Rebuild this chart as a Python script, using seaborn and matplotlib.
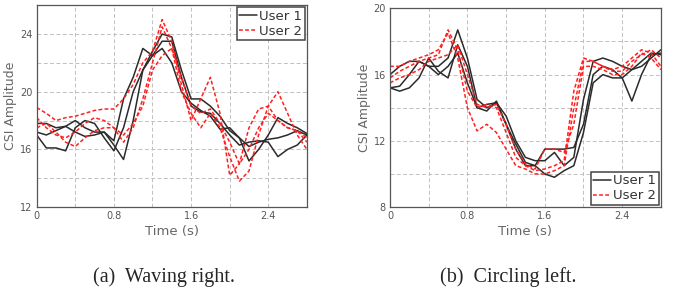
import matplotlib
matplotlib.use('Agg')
import numpy as np
import pandas as pd
import seaborn as sns
import matplotlib.pyplot as plt
from matplotlib.ticker import MultipleLocator

# time axis, one sample every 0.1 s
t = [round(0.1 * i, 1) for i in range(29)]

# (a) waving right
wave_user1 = [
    [17.8, 17.8, 17.5, 17.6, 18.0, 17.5, 17.2, 17.2, 16.6, 19.5, 21.0, 23.0, 22.5, 23.0, 22.0,
     20.0, 19.2, 18.7, 18.3, 17.4, 17.5, 16.8, 16.2, 16.5, 16.7, 16.8, 17.0, 17.3, 17.0],
    [17.2, 17.0, 17.3, 17.6, 17.2, 16.9, 17.0, 17.2, 16.3, 15.3, 18.0, 21.5, 22.8, 24.0, 23.8,
     21.5, 19.5, 19.5, 19.0, 18.3, 17.3, 16.8, 15.2, 16.0, 17.0, 18.2, 17.8, 17.5, 17.1],
    [17.0, 16.1, 16.1, 15.9, 17.5, 18.0, 17.8, 16.8, 15.9, 17.5, 20.0, 21.5, 22.5, 23.5, 23.5,
     21.0, 19.0, 18.6, 18.5, 17.8, 17.0, 16.3, 16.5, 16.6, 16.5, 15.5, 16.0, 16.3, 17.0],
]
wave_user2 = [
    [18.9, 18.5, 18.0, 18.2, 18.3, 18.5, 18.7, 18.8, 18.8, 19.5, 20.5, 22.0, 22.8, 25.0, 23.5,
     20.5, 18.0, 19.5, 21.0, 18.5, 14.2, 15.0, 17.5, 18.8, 19.0, 18.0, 17.5, 17.3, 16.5],
    [18.2, 17.5, 17.0, 16.8, 17.2, 17.8, 18.2, 18.0, 17.5, 16.5, 17.5, 19.5, 22.0, 24.5, 23.0,
     20.0, 18.5, 17.5, 18.5, 17.5, 15.5, 13.8, 14.5, 17.0, 19.0, 20.0, 18.5, 17.0, 16.0],
    [17.5, 17.8, 17.2, 16.5, 16.2, 16.8, 17.3, 17.5, 17.5, 17.0, 17.8, 19.0, 21.5, 22.5, 23.0,
     21.0, 19.0, 18.5, 18.8, 17.8, 16.5, 15.0, 16.0, 17.5, 18.5, 18.0, 17.5, 17.3, 16.8],
]

# (b) circling left
circle_user1 = [
    [16.0, 16.5, 16.8, 16.8, 16.5, 16.5, 17.0, 18.7, 17.0, 14.5, 14.0, 14.3, 13.5, 12.0, 11.0,
     10.8, 10.8, 11.3, 10.5, 11.0, 14.5, 16.8, 17.0, 16.8, 16.5, 16.3, 16.8, 17.3, 17.2],
    [15.2, 15.0, 15.2, 15.8, 17.0, 16.2, 15.8, 17.8, 16.5, 14.0, 13.8, 14.4, 13.0, 11.5, 10.5,
     10.5, 11.5, 11.5, 11.5, 11.6, 13.0, 16.0, 16.5, 16.3, 15.8, 14.4, 16.0, 17.2, 17.3],
    [15.2, 15.3, 16.0, 16.8, 16.5, 16.0, 16.5, 17.3, 15.5, 14.0, 14.2, 14.3, 13.0, 11.8, 10.7,
     10.5, 10.0, 9.8, 10.2, 10.5, 12.5, 15.5, 16.0, 15.8, 15.8, 16.3, 16.5, 17.0, 17.5],
]
circle_user2 = [
    [16.5, 16.5, 16.8, 17.0, 17.2, 17.5, 18.5, 17.0, 14.0, 12.6, 13.0, 12.5, 11.5, 10.5, 10.3,
     10.0, 10.0, 10.2, 10.5, 14.0, 16.8, 16.8, 16.5, 16.3, 16.5, 17.0, 17.5, 17.3, 16.5],
    [15.8, 16.2, 16.5, 16.8, 17.0, 17.2, 18.7, 17.5, 15.0, 14.0, 14.2, 14.0, 12.5, 11.0, 10.5,
     10.2, 10.3, 10.5, 10.8, 15.0, 17.0, 16.8, 16.5, 16.2, 16.2, 16.8, 17.2, 17.5, 17.0],
    [15.5, 15.8, 16.0, 16.3, 16.8, 17.0, 17.2, 17.8, 16.0, 14.2, 14.0, 14.2, 13.0, 11.5, 10.6,
     10.3, 11.5, 11.5, 11.3, 13.0, 16.5, 16.5, 16.3, 16.0, 16.0, 16.5, 17.3, 17.0, 16.3],
]


def to_frame(user1, user2):
    rows = []
    for name, group in (("User 1", user1), ("User 2", user2)):
        for k, vals in enumerate(group):
            for ti, v in zip(t, vals):
                rows.append([ti, v, name, "%s-%d" % (name, k)])
    return pd.DataFrame(rows, columns=["time", "amp", "user", "trial"])


def draw(ax, df, ylim, legend_loc, caption, cap_x):
    sns.lineplot(data=df, x="time", y="amp", hue="user", style="user", units="trial",
                 estimator=None, palette={"User 1": "#2b2b2b", "User 2": "#ff2020"},
                 dashes={"User 1": "", "User 2": (2.5, 1.5)}, linewidth=1.1, ax=ax)
    ax.set_xlim(0, 2.8)
    ax.set_ylim(*ylim)
    ax.xaxis.set_major_locator(MultipleLocator(0.8))
    ax.xaxis.set_minor_locator(MultipleLocator(0.4))
    ax.yaxis.set_major_locator(MultipleLocator(4))
    ax.yaxis.set_minor_locator(MultipleLocator(2))
    ax.set_xticks([0, 0.8, 1.6, 2.4])
    ax.set_xticklabels(["0", "0.8", "1.6", "2.4"])
    ax.grid(True, which="both", color="#c0c0c0", linestyle=(0, (4, 2.5)), linewidth=0.7)
    ax.set_axisbelow(True)
    ax.tick_params(which="both", direction="in", length=2, colors="#555555", labelsize=7, pad=3)
    ax.tick_params(which="minor", length=0)
    ax.set_xlabel("Time (s)", fontsize=9.5, color="#666666", labelpad=3)
    ax.set_ylabel("CSI Amplitude", fontsize=9, color="#666666", labelpad=2)
    for s in ax.spines.values():
        s.set_color("#555555")
        s.set_linewidth(0.9)
    leg = ax.legend(loc=legend_loc, fontsize=9.5, handlelength=1.3, handletextpad=0.2,
                    borderpad=0.2, labelspacing=0.15, borderaxespad=0.15, fancybox=False,
                    framealpha=1, edgecolor="#444444", title=None)
    leg.get_frame().set_linewidth(1.1)
    for txt in leg.get_texts():
        txt.set_color("#333333")
    fig.text(cap_x, 0.038, caption, ha="center", va="center", fontsize=14.5,
             family="Liberation Serif")


sns.set_style("white")
fig = plt.figure(figsize=(6.73, 2.88), dpi=100)
ax1 = fig.add_axes([0.0545, 0.281, 0.4015, 0.701])
ax2 = fig.add_axes([0.5795, 0.281, 0.4025, 0.690])

draw(ax1, to_frame(wave_user1, wave_user2), (12, 26), "upper right",
     "(a)  Waving right.", 0.243)
draw(ax2, to_frame(circle_user1, circle_user2), (8, 20), "lower right",
     "(b)  Circling left.", 0.755)

fig.savefig("out.png", dpi=100)
